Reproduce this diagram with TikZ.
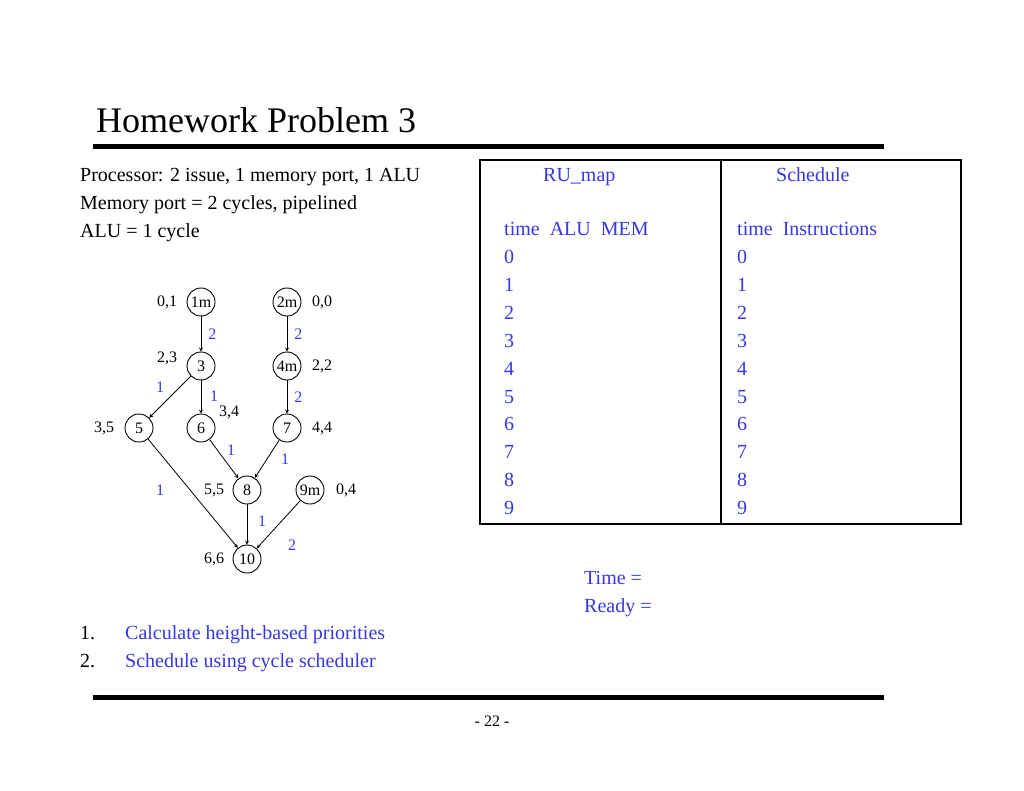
\documentclass[tikz,border=0pt]{standalone}
\usepackage{fontspec}
\setmainfont{Liberation Serif}
\begin{document}
\begin{tikzpicture}[x=1pt,y=-1pt,
  n/.style={circle,draw,line width=0.9pt,minimum size=28pt,inner sep=0pt,font=\fontsize{16}{18}\selectfont},
  lab/.style={font=\fontsize{16}{18}\selectfont,inner sep=0pt},
  wl/.style={font=\fontsize{16}{18}\selectfont,inner sep=0pt,text=blu},
  txt/.style={font=\fontsize{20}{24}\selectfont,inner sep=0pt,anchor=base west},
  e/.style={->,>=stealth,line width=0.8pt}]
\definecolor{blu}{RGB}{55,55,225}
\useasboundingbox (0,0) rectangle (1024,791);
\node[anchor=base west,inner sep=0pt,font=\fontsize{36}{40}\selectfont] (title) at (96,133) {Homework Problem 3};
\draw[line width=5pt] (93,147) -- (884,147);
\draw[line width=5pt] (93,697) -- (884,697);
\node[anchor=base,inner sep=0pt,font=\fontsize{16}{18}\selectfont] (pg) at (492,726) {- 22 -};
\node[txt] (p1) at (80,182) {Processor: 2 issue, 1 memory port, 1 ALU};
\node[txt] (p2) at (80,210) {Memory port = 2 cycles, pipelined};
\node[txt] (p3) at (80,238) {ALU = 1 cycle};
\node[txt] (l1) at (80,639) {1.};
\node[txt,text=blu] (l1b) at (125,639) {Calculate height-based priorities};
\node[txt] (l2) at (80,667) {2.};
\node[txt,text=blu] (l2b) at (125,667) {Schedule using cycle scheduler};
% table
\draw[line width=1.2pt] (480,160) rectangle (721,524);
\draw[line width=1.2pt] (721,160) rectangle (961,524);
\node[txt,text=blu] (ru) at (543,182) {RU\_map};
\node[txt,text=blu] (sc) at (776,182) {Schedule};
\node[txt,text=blu] (rh) at (504,236) {time\ \ ALU\ \ MEM};
\node[txt,text=blu] (sh) at (737,236) {time\ \ Instructions};
\foreach \i in {0,...,9}{
  \node[txt,text=blu] (r\i) at (504,264+27.8*\i) {\i};
  \node[txt,text=blu] (s\i) at (737,264+27.8*\i) {\i};
}
\node[txt,text=blu] (tm) at (584,584) {Time =};
\node[txt,text=blu] (rd) at (584,612) {Ready =};
% graph
\node[n] (n1) at (201,302) {1m};
\node[n] (n2) at (287,302) {2m};
\node[n] (n3) at (201,366) {3};
\node[n] (n4) at (287,366) {4m};
\node[n] (n5) at (139,428) {5};
\node[n] (n6) at (201,428) {6};
\node[n] (n7) at (287,428) {7};
\node[n] (n8) at (247,490) {8};
\node[n] (n9) at (310,490) {9m};
\node[n] (n10) at (247,559) {10};
\node[lab] (a1) at (167,302) {0,1};
\node[lab] (a2) at (322,302) {0,0};
\node[lab] (a3) at (167,358) {2,3};
\node[lab] (a4) at (322,366) {2,2};
\node[lab] (a5) at (104,428) {3,5};
\node[lab] (a6) at (229,412) {3,4};
\node[lab] (a7) at (322,428) {4,4};
\node[lab] (a8) at (214,490) {5,5};
\node[lab] (a9) at (346,490) {0,4};
\node[lab] (a10) at (214,559) {6,6};
\draw[e] (n1) -- (n3) node[wl,pos=0.5,right=7pt] {2};
\draw[e] (n2) -- (n4) node[wl,pos=0.5,right=7pt] {2};
\draw[e] (n3) -- (n5);
\node[wl] (w35) at (160,387) {1};
\draw[e] (n3) -- (n6);
\node[wl] (w36) at (214,396) {1};
\draw[e] (n4) -- (n7) node[wl,pos=0.5,right=7pt] {2};
\draw[e] (n6) -- (n8);
\node[wl] (w68) at (231,450) {1};
\draw[e] (n7) -- (n8);
\node[wl] (w78) at (285,459) {1};
\draw[e] (n5) -- (n10);
\node[wl] (w510) at (160,490) {1};
\draw[e] (n8) -- (n10);
\node[wl] (w810) at (262,521) {1};
\draw[e] (n9) -- (n10);
\node[wl] (w910) at (292,545) {2};
\end{tikzpicture}
\end{document}
